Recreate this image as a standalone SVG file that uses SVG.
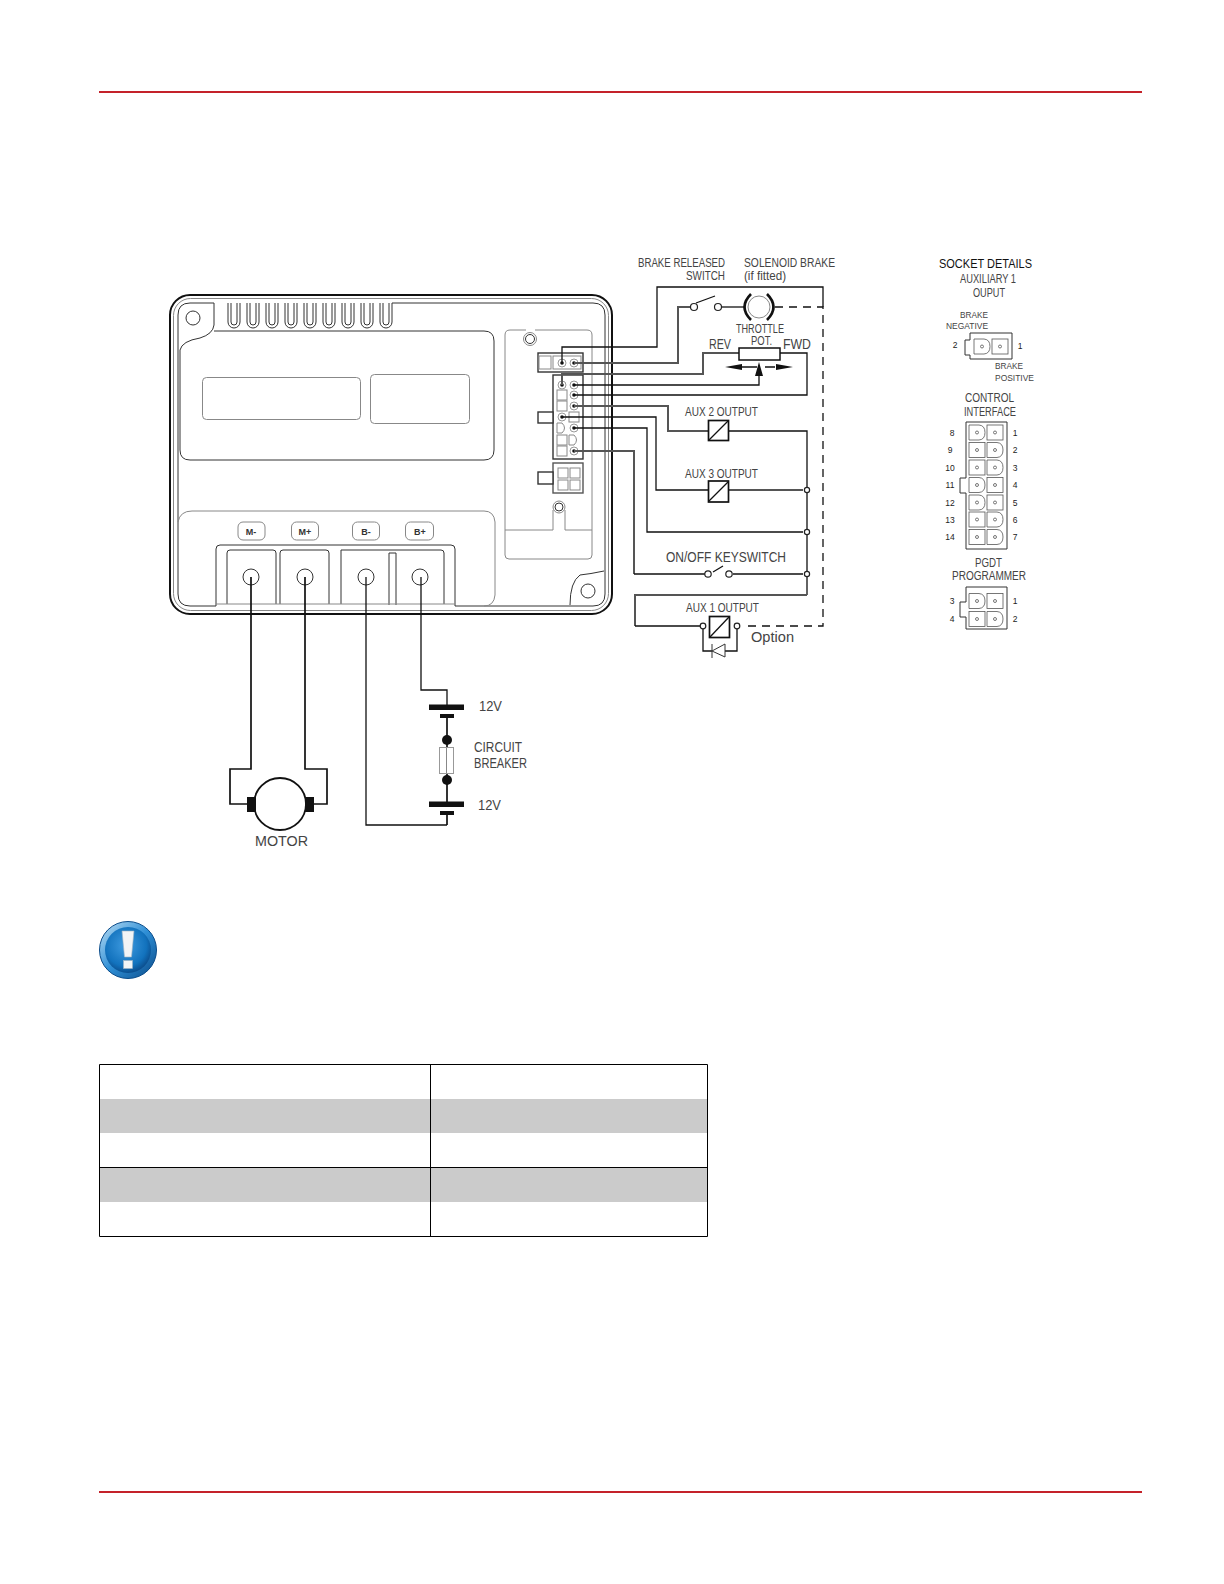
<svg xmlns="http://www.w3.org/2000/svg" xmlns:xlink="http://www.w3.org/1999/xlink" width="1224" height="1584" viewBox="0 0 1224 1584">
<style>
text{font-family:"Liberation Sans",Arial,sans-serif;fill:#444;font-size:12px}
.l{fill:none;stroke:#333;stroke-width:1}
.g{fill:none;stroke:#888;stroke-width:1}
.w{fill:none;stroke:#111;stroke-width:1.3}
.t{fill:none;stroke:#555;stroke-width:2}
.p{fill:none;stroke:#111;stroke-width:1.7}
.d{fill:none;stroke:#111;stroke-width:1.3;stroke-dasharray:8 6}
.n{fill:#fff;stroke:#222;stroke-width:1.2}
.b{fill:#111;stroke:none}
.s{font-size:9px}
.m{font-size:8.5px;fill:#222;text-anchor:middle}
.tl{font-weight:bold;font-size:9px;text-anchor:middle;fill:#333}
.cl{fill:none;stroke:#555;stroke-width:.8}
</style>
<defs>
<radialGradient id="ic" cx="45%" cy="40%" r="60%"><stop offset="0" stop-color="#3f9be0"/><stop offset=".75" stop-color="#1272bd"/><stop offset="1" stop-color="#0c4f8f"/></radialGradient>
<linearGradient id="ir" x1="0" y1="0" x2="1" y2="1"><stop offset="0" stop-color="#bfe0f5"/><stop offset=".5" stop-color="#2f8fd6"/><stop offset="1" stop-color="#0b4c8a"/></linearGradient>
<g id="cs"><rect x="-8" y="-7.500" width="16" height="15" class="cl"/><circle r="1.500" class="cl"/></g>
<g id="cr"><path d="M-8-7.500H2Q8-7 8 0Q8 7 2 7.500H-8Z" class="cl"/><circle r="1.500" class="cl"/></g>
<g id="pin"><circle r="4" fill="#fff" stroke="#999"/><circle r="1.800" class="b"/></g>
<path id="fin" d="M0 303V322a6 6 0 0 0 12 0V303M3 303V322a3 3 0 0 0 6 0V303"/>
</defs>
<rect width="1224" height="1584" fill="#fff"/>

<g id="rules">
<rect x="99" y="91" width="1043" height="2" fill="#c4222a"/>
<rect x="99" y="1491" width="1043" height="2" fill="#c4222a"/>
</g>

<g id="controller">
<rect x="170" y="295" width="442" height="319" rx="20" fill="#fff" stroke="#111" stroke-width="2"/>
<rect x="173.500" y="298.500" width="435" height="312" rx="17" class="g"/>
<path class="l" d="M214 303H190Q178 303 178 315V594Q178 606 190 606H216M455 606H593Q605 606 605 594V315Q605 303 593 303H392"/>
<circle cx="193" cy="318" r="7" class="l"/>
<g class="l">
<use xlink:href="#fin" x="228"/><use xlink:href="#fin" x="247"/><use xlink:href="#fin" x="266"/><use xlink:href="#fin" x="285"/><use xlink:href="#fin" x="304"/><use xlink:href="#fin" x="323"/><use xlink:href="#fin" x="342"/><use xlink:href="#fin" x="361"/><use xlink:href="#fin" x="380"/>
</g>
<path class="l" d="M214 303V325Q213 334 200 338Q182 341 180 350V450Q180 460 190 460H484Q494 460 494 450V341Q494 331 484 331H214"/>
<rect x="202.500" y="377.500" width="158" height="42" rx="4" class="g"/>
<rect x="370.500" y="374.500" width="99" height="49" rx="4" class="g"/>
<path class="g" d="M178 522Q180 511 192 511H484Q494 511 495 522V595Q494 606 484 606"/>
<path class="l" d="M216 606V549Q216 545 220 545H451Q455 545 455 549V606"/>
<path class="l" d="M227 604V553Q227 550 230 550H273Q276 550 276 553V604M280 604V553Q280 550 283 550H326Q329 550 329 553V604M341 604V550H441Q444 550 444 553V604M389 605V553H396V605"/>
<path class="g" d="M216 604H455"/>
<circle cx="251" cy="577" r="8" class="l"/><circle cx="305" cy="577" r="8" class="l"/><circle cx="366" cy="577" r="8" class="l"/><circle cx="420" cy="577" r="8" class="l"/>
<g class="g"><rect x="238" y="522" width="27" height="18" rx="5"/><rect x="291.500" y="522" width="27" height="18" rx="5"/><rect x="352.500" y="522" width="27" height="18" rx="5"/><rect x="405.500" y="522" width="28" height="18" rx="5"/></g>
<text class="tl" x="251" y="534.500">M-</text><text class="tl" x="305" y="534.500">M+</text><text class="tl" x="366" y="534.500">B-</text><text class="tl" x="420" y="534.500">B+</text>
<path class="g" d="M505 530V335Q505 330 510 330H526M535 330H587Q592 330 592 335V555Q592 559 588 559H509Q505 559 505 555V530H553V510M565 510V530H592"/>
<circle cx="530" cy="339" r="4.500" class="l"/><circle cx="530" cy="339" r="6.500" class="g"/>
<circle cx="559" cy="507" r="4" class="l"/><circle cx="559" cy="507" r="6" class="g"/>
<path class="l" d="M604 571Q590 574 580 575Q570 582 570 605"/>
<circle cx="588" cy="591" r="7" class="l"/>
<g id="header-1">
<rect x="538" y="353" width="45" height="19" fill="#fff" stroke="#333" stroke-width="1.400"/>
<rect x="539" y="356" width="12" height="13" class="g"/><rect x="553" y="356" width="28" height="13" class="g"/>
<use xlink:href="#pin" x="562" y="363"/><use xlink:href="#pin" x="574" y="363"/>
</g>
<g id="header-2">
<rect x="553" y="375" width="30" height="84" fill="#fff" stroke="#333" stroke-width="1.400"/>
<rect x="538" y="412" width="15" height="11" fill="#fff" stroke="#333" stroke-width="1.400"/>
<g class="g"><rect x="557" y="390" width="10" height="10"/><rect x="557" y="401" width="10" height="10"/><rect x="569" y="412" width="10" height="10"/><path d="M557 423H562Q567 428 562 433H557Z"/><rect x="557" y="435" width="10" height="10"/><path d="M569 435H574Q579 440 574 445H569Z"/><rect x="557" y="446" width="10" height="10"/></g>
<use xlink:href="#pin" x="562" y="385"/><use xlink:href="#pin" x="574" y="385"/><use xlink:href="#pin" x="574" y="395"/><use xlink:href="#pin" x="574" y="406"/><use xlink:href="#pin" x="562" y="417"/><use xlink:href="#pin" x="574" y="428"/><use xlink:href="#pin" x="574" y="451"/>
</g>
<g id="header-3">
<rect x="553" y="463" width="30" height="30" fill="#fff" stroke="#555" stroke-width="1.400"/>
<rect x="538" y="472" width="15" height="12" fill="#fff" stroke="#333" stroke-width="1.400"/>
<g class="g"><rect x="558" y="468" width="10" height="10"/><rect x="570" y="468" width="10" height="10"/><rect x="558" y="480" width="10" height="10"/><rect x="570" y="480" width="10" height="10"/></g>
</g>
</g>

<g id="connectors">
<path class="w" d="M562 363V347H657V287H823V307"/>
<path class="d" d="M775 307H823V626H743"/>
<path class="t" d="M574 363H678V307H690"/>
<path class="w" d="M722 307H745"/>
<path class="t" d="M562 385V374H703V353H739"/>
<path class="w" d="M780 353H807V395H574"/>
<path class="w" d="M574 385H759V370"/>
<path class="w" d="M742 367H757M765 367H775"/>
<path class="t" d="M574 406H668V431H708"/>
<path class="w" d="M729 431H807V595"/>
<path class="w" d="M562 417H656V490H708"/>
<path class="t" d="M729 490H803"/>
<path class="w" d="M574 428H647V532H803"/>
<path class="t" d="M574 451H634V574"/>
<path class="w" d="M634 574H705M733 574H803"/>
<path class="t" d="M807 595H635V626"/>
<path class="w" d="M635 626H700M703 629V651H712M725 651H737V629"/>
<path class="p" d="M251 577V769H230V804H247M305 577V769H327V804H314"/>
<path class="w" d="M421 577V690H447V705"/>
<path class="p" d="M447 716V802M447 813V825"/>
<path class="w" d="M447 825H366V577"/>
</g>

<g id="brake-switch"><circle cx="694" cy="307" r="3.500" class="n"/><circle cx="718" cy="307" r="3.500" class="n"/><path class="w" d="M696 303L715 296"/></g>
<g id="solenoid"><circle cx="759" cy="307" r="11" fill="#fff" stroke="#888"/><path d="M751 294Q738 307 751 320M767 294Q780 307 767 320" fill="none" stroke="#111" stroke-width="2.600"/></g>
<g id="throttle">
<rect x="739" y="348" width="41" height="12" fill="#fff" stroke="#111" stroke-width="1.500"/>
<path class="b" d="M759 362L763 376H755ZM725 367L742 364V370ZM793 367L776 364V370Z"/>
</g>
<g id="aux2"><rect x="708.500" y="420.500" width="20" height="20" fill="#fff" stroke="#111" stroke-width="1.700"/><path class="w" d="M709 440L728 421"/></g>
<g id="aux3"><rect x="708.500" y="481" width="20" height="21" fill="#fff" stroke="#111" stroke-width="1.700"/><path class="w" d="M709 501L728 482"/></g>
<g id="aux1"><rect x="709.500" y="616.500" width="20" height="21" fill="#fff" stroke="#111" stroke-width="1.700"/><path class="w" d="M710 637L729 617"/><circle cx="703" cy="626" r="2.800" class="n"/><circle cx="737" cy="626" r="2.800" class="n"/><path class="l" d="M712 644V658M712 651L725 644V657Z"/></g>
<g id="keyswitch"><circle cx="708" cy="574" r="3.200" class="n"/><circle cx="729" cy="574" r="3.200" class="n"/><path class="w" d="M713 572L723 566"/></g>
<g id="nodes"><circle cx="807" cy="490" r="2.600" class="n"/><circle cx="807" cy="532" r="2.600" class="n"/><circle cx="807" cy="574" r="2.600" class="n"/></g>

<g id="motor">
<circle cx="280" cy="804" r="26" fill="#fff" stroke="#111" stroke-width="1.800"/>
<rect x="247" y="797" width="9" height="15" class="b"/><rect x="305" y="797" width="9" height="15" class="b"/>
</g>
<g id="battery-1"><rect x="429" y="704.500" width="35" height="5.500" class="b"/><rect x="440" y="714" width="14" height="4" class="b"/></g>
<g id="breaker">
<circle cx="447" cy="740" r="5" class="b"/><rect x="439.500" y="747.500" width="14" height="26" fill="#fff" stroke="#999"/><path class="g" d="M446.500 748V773"/><circle cx="447" cy="780" r="5" class="b"/>
</g>
<g id="battery-2"><rect x="429" y="801.500" width="35" height="5.500" class="b"/><rect x="440" y="811" width="14" height="4" class="b"/></g>

<g id="labels">
<text x="638" y="267" textLength="87" lengthAdjust="spacingAndGlyphs">BRAKE RELEASED</text>
<text x="686" y="280" textLength="39" lengthAdjust="spacingAndGlyphs">SWITCH</text>
<text x="744" y="267" textLength="91" lengthAdjust="spacingAndGlyphs">SOLENOID BRAKE</text>
<text x="744" y="280" textLength="42" lengthAdjust="spacingAndGlyphs">(if fitted)</text>
<text x="736" y="333" textLength="48" lengthAdjust="spacingAndGlyphs">THROTTLE</text>
<text x="751" y="345" textLength="21" lengthAdjust="spacingAndGlyphs">POT.</text>
<text x="709" y="349" textLength="22" lengthAdjust="spacingAndGlyphs" style="font-size:14px">REV</text>
<text x="783" y="349" textLength="28" lengthAdjust="spacingAndGlyphs" style="font-size:14px">FWD</text>
<text x="685" y="416" textLength="73" lengthAdjust="spacingAndGlyphs">AUX 2 OUTPUT</text>
<text x="685" y="478" textLength="73" lengthAdjust="spacingAndGlyphs">AUX 3 OUTPUT</text>
<text x="666" y="562" textLength="120" lengthAdjust="spacingAndGlyphs" style="font-size:14px">ON/OFF KEYSWITCH</text>
<text x="686" y="612" textLength="73" lengthAdjust="spacingAndGlyphs">AUX 1 OUTPUT</text>
<text x="751" y="642" textLength="43" lengthAdjust="spacingAndGlyphs" style="font-size:14px">Option</text>
<text x="479" y="711" textLength="23" lengthAdjust="spacingAndGlyphs" style="font-size:14px">12V</text>
<text x="478" y="810" textLength="23" lengthAdjust="spacingAndGlyphs" style="font-size:14px">12V</text>
<text x="474" y="752" textLength="48" lengthAdjust="spacingAndGlyphs" style="font-size:14px">CIRCUIT</text>
<text x="474" y="768" textLength="53" lengthAdjust="spacingAndGlyphs" style="font-size:14px">BREAKER</text>
<text x="255" y="846" textLength="53" lengthAdjust="spacingAndGlyphs" style="font-size:15px">MOTOR</text>
<text x="939" y="268" textLength="93" lengthAdjust="spacingAndGlyphs" style="fill:#111;font-size:13px">SOCKET  DETAILS</text>
<text x="960" y="283" textLength="56" lengthAdjust="spacingAndGlyphs">AUXILIARY 1</text>
<text x="973" y="297" textLength="32" lengthAdjust="spacingAndGlyphs">OUPUT</text>
<text class="s" x="960" y="318" textLength="28" lengthAdjust="spacingAndGlyphs">BRAKE</text>
<text class="s" x="946" y="329" textLength="42" lengthAdjust="spacingAndGlyphs">NEGATIVE</text>
<text class="s" x="995" y="369" textLength="28" lengthAdjust="spacingAndGlyphs">BRAKE</text>
<text class="s" x="995" y="381" textLength="39" lengthAdjust="spacingAndGlyphs">POSITIVE</text>
<text x="965" y="402" textLength="49" lengthAdjust="spacingAndGlyphs">CONTROL</text>
<text x="964" y="416" textLength="52" lengthAdjust="spacingAndGlyphs">INTERFACE</text>
<text x="975" y="567" textLength="27" lengthAdjust="spacingAndGlyphs">PGDT</text>
<text x="952" y="580" textLength="74" lengthAdjust="spacingAndGlyphs">PROGRAMMER</text>
</g>

<g id="socket-aux1">
<path class="l" d="M970 333H1012V359H970V355H965V340H970Z"/>
<use xlink:href="#cr" x="982" y="346.500"/><use xlink:href="#cs" x="1000" y="346.500"/>
<text class="m" x="955" y="348">2</text><text class="m" x="1020" y="349">1</text>
</g>
<g id="socket-control">
<path class="l" d="M966 422H1007V549H966V493H960V478H966Z"/>
<use xlink:href="#cr" x="977" y="432.500"/><use xlink:href="#cs" x="995" y="432.500"/>
<use xlink:href="#cs" x="977" y="450"/><use xlink:href="#cr" x="995" y="450"/>
<use xlink:href="#cs" x="977" y="467.500"/><use xlink:href="#cr" x="995" y="467.500"/>
<use xlink:href="#cr" x="977" y="485"/><use xlink:href="#cs" x="995" y="485"/>
<use xlink:href="#cr" x="977" y="502.500"/><use xlink:href="#cs" x="995" y="502.500"/>
<use xlink:href="#cs" x="977" y="519.500"/><use xlink:href="#cr" x="995" y="519.500"/>
<use xlink:href="#cs" x="977" y="537"/><use xlink:href="#cr" x="995" y="537"/>
<text class="m" x="952" y="436">8</text><text class="m" x="950" y="453">9</text><text class="m" x="950" y="471">10</text><text class="m" x="950" y="488">11</text><text class="m" x="950" y="506">12</text><text class="m" x="950" y="523">13</text><text class="m" x="950" y="540">14</text>
<text class="m" x="1015" y="436">1</text><text class="m" x="1015" y="453">2</text><text class="m" x="1015" y="471">3</text><text class="m" x="1015" y="488">4</text><text class="m" x="1015" y="506">5</text><text class="m" x="1015" y="523">6</text><text class="m" x="1015" y="540">7</text>
</g>
<g id="socket-pgdt">
<path class="l" d="M966 587H1007V629H966V617H960V602H966Z"/>
<use xlink:href="#cr" x="977" y="601"/><use xlink:href="#cs" x="995" y="601"/>
<use xlink:href="#cs" x="977" y="619"/><use xlink:href="#cr" x="995" y="619"/>
<text class="m" x="952" y="604">3</text><text class="m" x="952" y="622">4</text><text class="m" x="1015" y="604">1</text><text class="m" x="1015" y="622">2</text>
</g>

<g id="note-icon">
<circle cx="128" cy="950" r="28.500" fill="url(#ir)" stroke="#0b4c8a"/>
<circle cx="128" cy="950" r="23" fill="url(#ic)"/>
<path d="M122 931H134L131.500 957H124.500Z" fill="#f2f4f6" stroke="#9fb3c4" stroke-width=".6"/>
<rect x="123.500" y="960.500" width="9" height="8" fill="#f2f4f6" stroke="#9fb3c4" stroke-width=".6"/>
</g>

<g id="table">
<rect x="99" y="1099" width="608" height="34" fill="#cbcbcb"/>
<rect x="99" y="1168" width="608" height="34" fill="#cbcbcb"/>
<path d="M99.500 1064.500H707.500V1236.500H99.500ZM430.500 1064.500V1236.500M99.500 1167.500H707.500" fill="none" stroke="#000" stroke-width="1"/>
</g>
</svg>
